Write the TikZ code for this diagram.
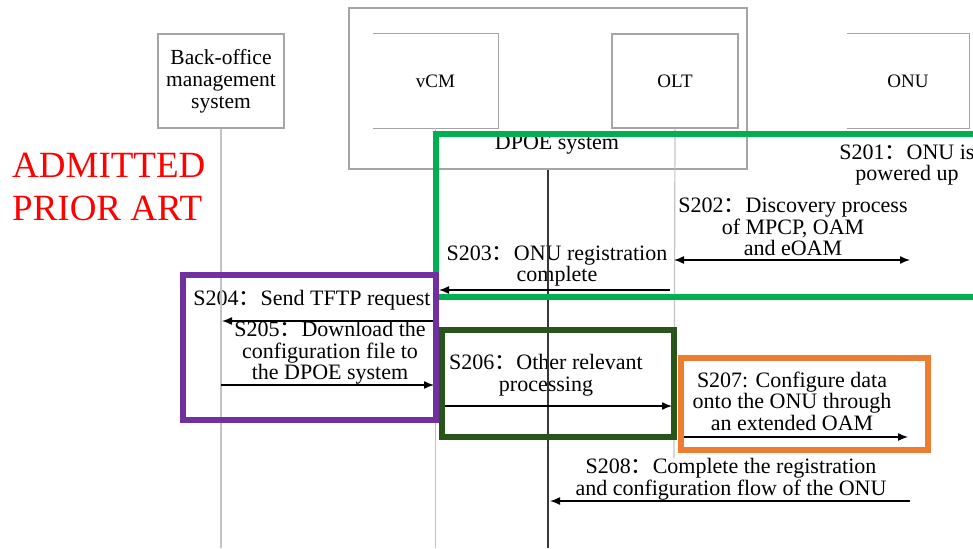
\documentclass[tikz,border=0pt]{standalone}
\usepackage{fontspec}
\setmainfont{Liberation Serif}
\newfontfamily\cjk{Noto Sans CJK SC}
\usepackage{xcolor}
\usetikzlibrary{positioning}
\usetikzlibrary{arrows.meta}
\pgfdeclarelayer{nodelayer}
\pgfdeclarelayer{edgelayer}
\pgfsetlayers{nodelayer,edgelayer,main}
\definecolor{boxgray}{RGB}{165,165,165}
\definecolor{linegray}{RGB}{195,195,195}
\definecolor{dpoegray}{RGB}{55,55,55}
\definecolor{hiligreen}{RGB}{0,176,80}
\definecolor{hilipurple}{RGB}{112,48,160}
\definecolor{hilidark}{RGB}{40,85,25}
\definecolor{hiliorange}{RGB}{237,125,49}
\newcommand{\fc}{{\cjk ：}}
\tikzset{
    none/.style = {inner sep=0pt},
    entity/.style = {inner sep=0pt, align=center, minimum height=94pt, font=\fontsize{21.5}{22}\selectfont},
    msgtext/.style = {inner sep=0pt, align=center, font=\fontsize{22}{21.5}\selectfont},
    lifeline/.style = {draw=linegray, line width=1.2pt},
    msg/.style = {line width=1.4pt, ->, >={Latex[length=10pt,width=8pt]}},
    hilite/.style = {line width=6.5pt}
}
\begin{document}
\begin{tikzpicture}[x=1pt, y=-1pt]
    \useasboundingbox (0, 0) rectangle (973, 548);
    \begin{pgfonlayer}{nodelayer}
        % entities
        \node [style=entity, draw=boxgray, line width=1.1pt, minimum width=126pt] (0) at (221, 81) {Back-office\\management\\system};
        \node [style=entity, minimum width=125pt, font=\fontsize{19}{20}\selectfont] (1) at (435.5, 81) {vCM};
        \node [style=entity, draw=boxgray, line width=1.1pt, minimum width=126pt, font=\fontsize{19}{20}\selectfont] (2) at (675, 81) {OLT};
        \node [style=entity, minimum width=122pt, font=\fontsize{19}{20}\selectfont] (3) at (908, 81) {ONU};
        \node [style=none, draw=boxgray, line width=1.1pt, minimum width=398pt, minimum height=161pt] (4) at (548, 88.5) {};
        \node [style=msgtext] (5) at (557, 145) {DPOE system};
        % lifeline ends
        \node [style=none] (6) at (221, 548) {};
        \node [style=none] (7) at (435.5, 548) {};
        \node [style=none] (8) at (674, 458) {};
        \node [style=none] (9) at (548, 548) {};
        % message ends
        \node [style=none] (10) at (674, 260) {};
        \node [style=none] (11) at (910, 260) {};
        \node [style=none] (12) at (670, 290) {};
        \node [style=none] (13) at (439, 290) {};
        \node [style=none] (14) at (436, 321) {};
        \node [style=none] (15) at (222, 321) {};
        \node [style=none] (16) at (221, 385) {};
        \node [style=none] (17) at (434, 385) {};
        \node [style=none] (18) at (443, 406) {};
        \node [style=none] (19) at (672, 406) {};
        \node [style=none] (20) at (684, 437) {};
        \node [style=none] (21) at (908, 437) {};
        \node [style=none] (22) at (910, 501) {};
        \node [style=none] (23) at (550, 501) {};
        % message texts
        \node [style=msgtext] (24) at (907, 165) {S201\fc ONU is\\powered up};
        \node [style=msgtext] (25) at (793, 227) {S202\fc Discovery process\\of MPCP, OAM\\and eOAM};
        \node [style=msgtext] (26) at (557, 266) {S203\fc ONU registration\\complete};
        \node [style=msgtext] (27) at (312, 300) {S204\fc Send TFTP request};
        \node [style=msgtext] (28) at (330, 353) {S205\fc Download the\\configuration file to\\the DPOE system};
        \node [style=msgtext] (29) at (546, 375) {S206\fc Other relevant\\processing};
        \node [style=msgtext] (30) at (792, 401) {S207: Configure data\\onto the ONU through\\an extended OAM};
        \node [style=msgtext] (31) at (731, 479) {S208\fc Complete the registration\\and configuration flow of the ONU};
        \node [style=none, anchor=north west, align=left, text=red, font=\fontsize{37}{43}\selectfont] (32) at (12, 153) {ADMITTED\\PRIOR ART};
    \end{pgfonlayer}
    \begin{pgfonlayer}{edgelayer}
        \draw [draw=boxgray, line width=1.1pt] (1.north west) to (1.north east) to (1.south east) to (1.south west);
        \draw [draw=boxgray, line width=1.1pt] (3.north west) to (3.north east) to (3.south east) to (3.south west);
        \draw [style=lifeline] (0.south) to (6.center);
        \draw [style=lifeline] (1.south) to (7.center);
        \draw [style=lifeline] (2.south) to (8.center);
        \draw [draw=dpoegray, line width=1.5pt] (4.south) to (9.center);
        \draw [style=msg, <->] (10.center) to (11.center);
        \draw [style=msg] (12.center) to (13.center);
        \draw [style=msg] (14.center) to (15.center);
        \draw [style=msg] (16.center) to (17.center);
        \draw [style=msg] (18.center) to (19.center);
        \draw [style=msg] (20.center) to (21.center);
        \draw [style=msg] (22.center) to (23.center);
    \end{pgfonlayer}
    % highlight frames
    \draw [style=hilite, draw=hiligreen] (436, 134) rectangle (995, 297);
    \draw [style=hilite, draw=hilipurple] (183, 275) rectangle (436, 420);
    \draw [style=hilite, draw=hilidark] (442, 330) rectangle (674, 437);
    \draw [style=hilite, draw=hiliorange] (681, 358) rectangle (928, 450);
\end{tikzpicture}
\end{document}
